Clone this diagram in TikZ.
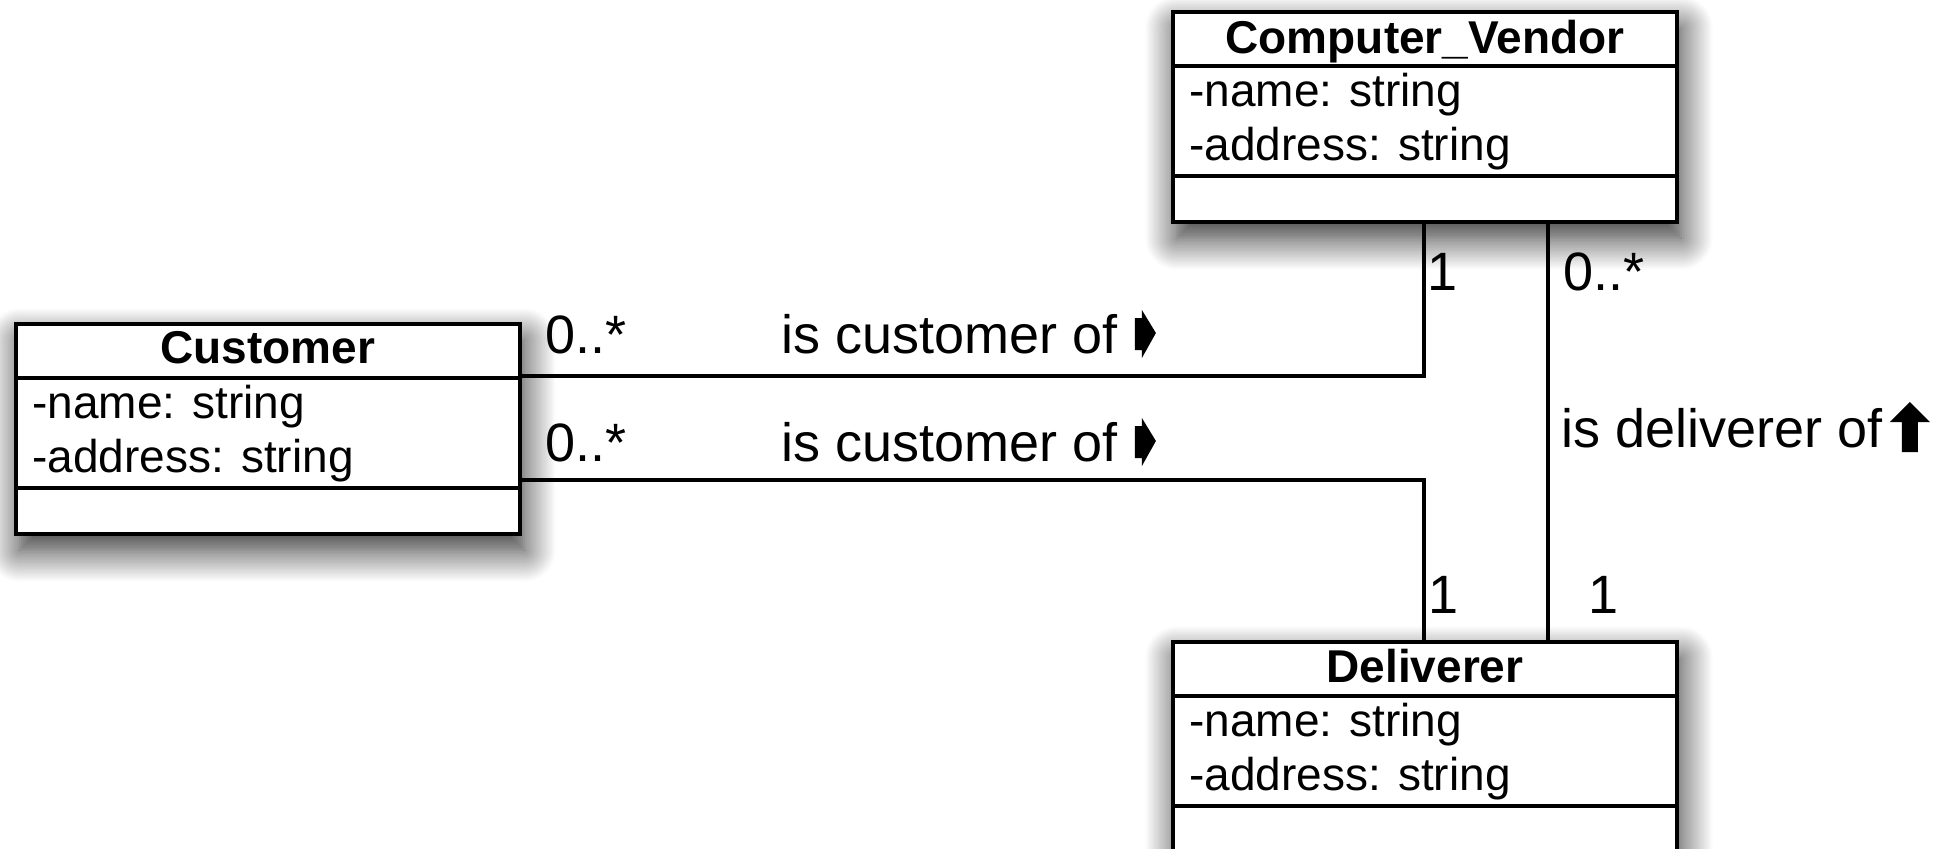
\documentclass[tikz,border=0pt]{standalone}
\usepackage{fontspec}
\setmainfont{Liberation Sans}
\usetikzlibrary{shadows.blur}

\tikzset{
  classbox/.style={rectangle, draw, line width=1.7pt, fill=white,
    inner sep=0pt, outer sep=0pt, minimum width=252pt, minimum height=105pt,
    anchor=north west,
    blur shadow={shadow xshift=2pt, shadow yshift=-8pt,
      shadow blur radius=16pt, shadow blur steps=18, shadow opacity=85}},
  divider/.style={line width=1.7pt},
  classname/.style={font=\fontsize{23}{27}\selectfont\bfseries, anchor=base, inner sep=0pt},
  attr/.style={font=\fontsize{23}{27}\selectfont, anchor=base west, inner sep=0pt},
  assoc/.style={line width=1.8pt},
  lbl/.style={font=\fontsize{27}{32}\selectfont, anchor=base west, inner sep=0pt},
  dirarrow/.style={fill=black},
}

\begin{document}
\begin{tikzpicture}[x=0.5pt, y=-0.5pt]
\useasboundingbox (0,0) rectangle (1940,848);

% class boxes
\node[classbox] (cv)   at (1173,12)  {};
\node[classbox] (cust) at (16,324)   {};
\node[classbox] (del)  at (1173,642) {};

% compartment separators
\foreach \b in {cv,cust,del} {
  \draw[divider] ([yshift=-27pt]\b.north west) -- ([yshift=-27pt]\b.north east);
  \draw[divider] ([yshift=-82pt]\b.north west) -- ([yshift=-82pt]\b.north east);
}

% class names and attributes
\node[classname] (cvname) at ([yshift=-20.5pt]cv.north) {Computer\_Vendor};
\node[attr] (cva1) at ([xshift=8pt,yshift=-47pt]cv.north west) {-name: string};
\node[attr] (cva2) at ([xshift=8pt,yshift=-74pt]cv.north west) {-address: string};

\node[classname] (custname) at ([yshift=-19.5pt]cust.north) {Customer};
\node[attr] (custa1) at ([xshift=8pt,yshift=-47pt]cust.north west) {-name: string};
\node[attr] (custa2) at ([xshift=8pt,yshift=-74pt]cust.north west) {-address: string};

\node[classname] (delname) at ([yshift=-20pt]del.north) {Deliverer};
\node[attr] (dela1) at ([xshift=8pt,yshift=-47pt]del.north west) {-name: string};
\node[attr] (dela2) at ([xshift=8pt,yshift=-74pt]del.north west) {-address: string};

% associations
\draw[assoc] ([yshift=-26pt]cust.north east) -| ([xshift=125.5pt]cv.south west);
\draw[assoc] ([yshift=-78pt]cust.north east) -| ([xshift=125.5pt]del.north west);
\draw[assoc] ([xshift=187.5pt]cv.south west) -- ([xshift=187.5pt]del.north west);

% multiplicities
\node[lbl] (m1) at (545,353)  {0..*};
\node[lbl] (m2) at (545,461)  {0..*};
\node[lbl] (m3) at (1427,290) {1};
\node[lbl] (m4) at (1563,290) {0..*};
\node[lbl] (m5) at (1428,613) {1};
\node[lbl] (m6) at (1588,613) {1};

% association names with reading direction
\node[lbl] (r1) at (781,353)  {is customer of};
\node[lbl] (r2) at (781,461)  {is customer of};
\node[lbl] (r3) at (1561,447) {is deliverer of};

\foreach \r in {r1,r2} {
  \fill[dirarrow, shift={(\r.base east)}]
    (17,-35) -- (24,-35) -- (24,-43) -- (38,-20) -- (24,5) -- (24,-3) -- (17,-3) -- cycle;
}
\fill[dirarrow, shift={(r3.base east)}]
  (19,5) -- (19,-25) -- (7,-25) -- (27,-45) -- (47,-25) -- (35,-25) -- (35,5) -- cycle;
\end{tikzpicture}
\end{document}
